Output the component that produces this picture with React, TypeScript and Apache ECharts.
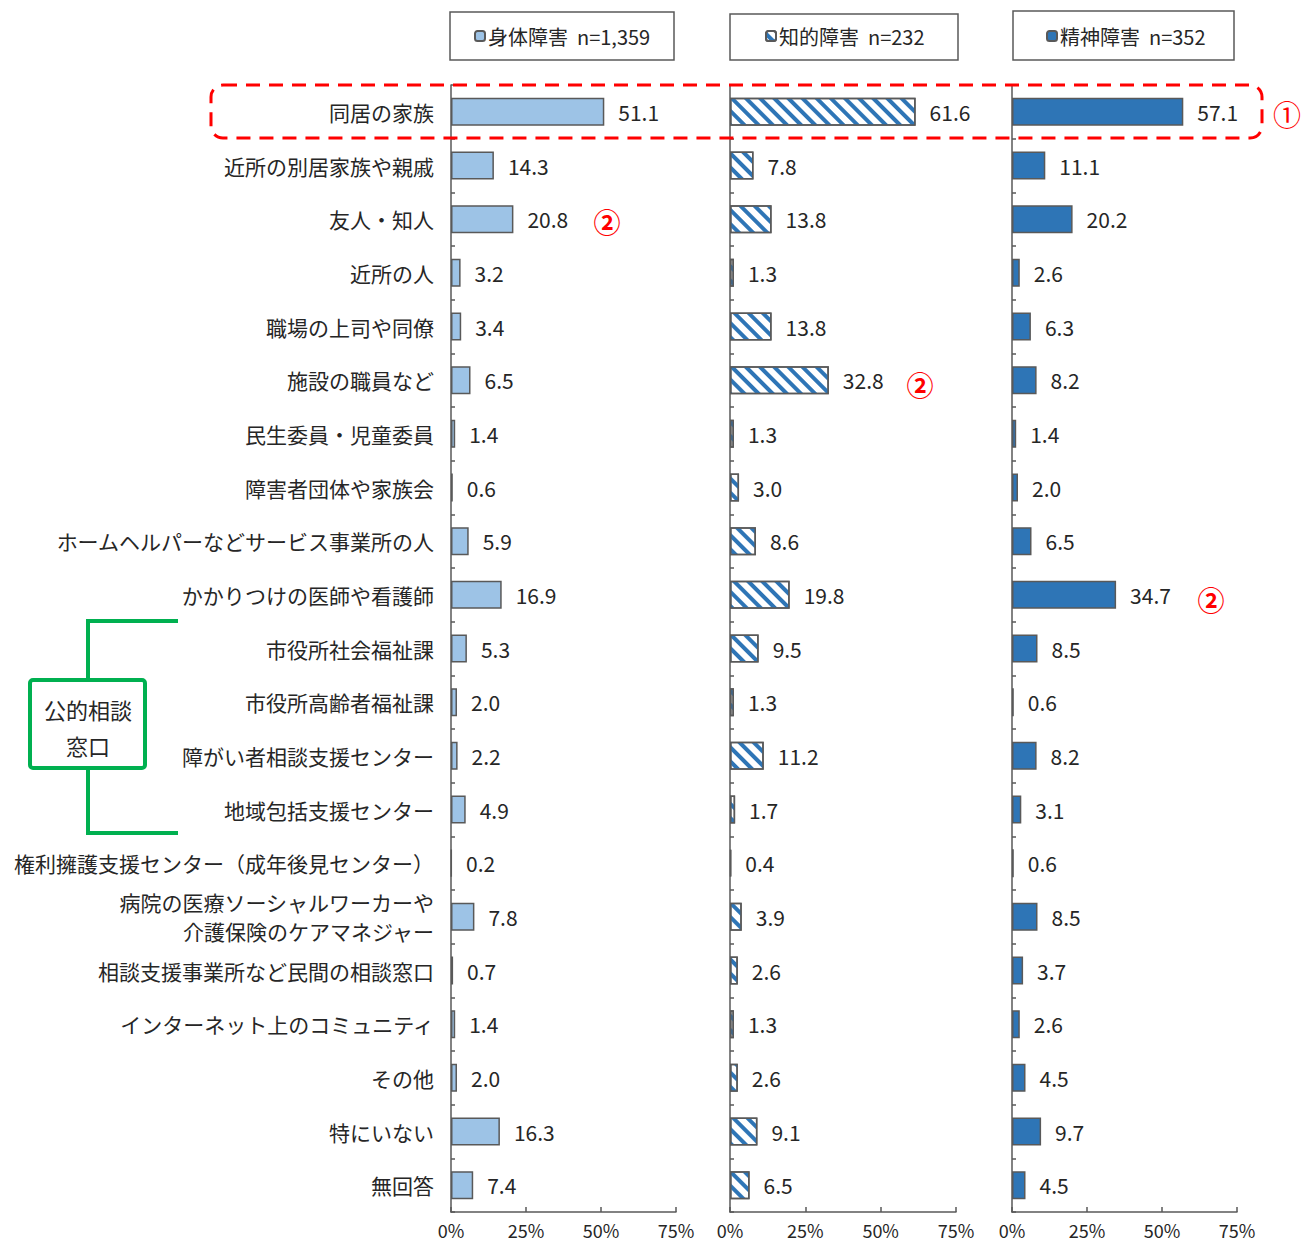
import React, { useEffect, useRef } from "react";
import * as echarts from "echarts";

const categories = [
  "同居の家族",
  "近所の別居家族や親戚",
  "友人・知人",
  "近所の人",
  "職場の上司や同僚",
  "施設の職員など",
  "民生委員・児童委員",
  "障害者団体や家族会",
  "ホームヘルパーなどサービス事業所の人",
  "かかりつけの医師や看護師",
  "市役所社会福祉課",
  "市役所高齢者福祉課",
  "障がい者相談支援センター",
  "地域包括支援センター",
  "権利擁護支援センター（成年後見センター）",
  "病院の医療ソーシャルワーカーや\n介護保険のケアマネジャー",
  "相談支援事業所など民間の相談窓口",
  "インターネット上のコミュニティ",
  "その他",
  "特にいない",
  "無回答",
];

const seriesNames = ["身体障害  n=1,359", "知的障害  n=232", "精神障害  n=352"];

const physical = [51.1, 14.3, 20.8, 3.2, 3.4, 6.5, 1.4, 0.6, 5.9, 16.9, 5.3, 2.0, 2.2, 4.9, 0.2, 7.8, 0.7, 1.4, 2.0, 16.3, 7.4];
const intellectual = [61.6, 7.8, 13.8, 1.3, 13.8, 32.8, 1.3, 3.0, 8.6, 19.8, 9.5, 1.3, 11.2, 1.7, 0.4, 3.9, 2.6, 1.3, 2.6, 9.1, 6.5];
const mental = [57.1, 11.1, 20.2, 2.6, 6.3, 8.2, 1.4, 2.0, 6.5, 34.7, 8.5, 0.6, 8.2, 3.1, 0.6, 8.5, 3.7, 2.6, 4.5, 9.7, 4.5];

const xTicks = [0, 25, 50, 75];

const JP = "'Noto Sans CJK JP', 'Noto Sans', sans-serif";
const NUM = "'Noto Sans CJK JP', sans-serif";
const AXIS = "#595959";
const TEXT = "#262626";

export default function App() {
  const ref = useRef<HTMLDivElement>(null);
  useEffect(() => {
    if (!ref.current) return;
    const chart = echarts.init(ref.current, null, { renderer: "svg" });
    const grids = [
      { left: 451, width: 225, top: 85, height: 1127 },
      { left: 730, width: 226, top: 85, height: 1127 },
      { left: 1012, width: 225, top: 85, height: 1127 },
    ];
    const datasets = [physical, intellectual, mental];
    const styles: any[] = [
      { color: "#9DC3E6", borderColor: AXIS, borderWidth: 1.5 },
      {
        color: "#FFFFFF",
        borderColor: AXIS,
        borderWidth: 1.5,
        decal: {
          symbol: "rect",
          symbolSize: 1,
          color: "#2E75B6",
          dashArrayX: [1, 0],
          dashArrayY: [4, 6],
          rotation: Math.PI / 4,
        },
      },
      { color: "#2E75B6", borderColor: AXIS, borderWidth: 1.5 },
    ];
    const legendPos = [
      { left: 474, top: 26 },
      { left: 765, top: 26 },
      { left: 1046, top: 26 },
    ];
    const option: any = {
      animation: false,
      backgroundColor: "#FFFFFF",
      aria: { enabled: false },
      grid: grids.map((g) => ({ ...g, containLabel: false })),
      legend: seriesNames.map((n, i) => ({
        data: [n],
        left: legendPos[i].left,
        top: legendPos[i].top,
        itemWidth: 10,
        itemHeight: 10,
        itemGap: 4,
        padding: 0,
        selectedMode: false,
        textStyle: { fontFamily: JP, fontSize: 20, color: TEXT, padding: [0, 0, 0, -2] },
      })),
      xAxis: grids.map((_, i) => ({
        type: "value",
        gridIndex: i,
        min: 0,
        max: 75,
        interval: 25,
        axisLine: { show: true, lineStyle: { color: AXIS, width: 1.5 } },
        axisTick: { show: true, inside: true, length: 5, lineStyle: { color: AXIS, width: 1.5 } },
        splitLine: { show: false },
        axisLabel: {
          formatter: (v: number) => (xTicks.includes(v) ? v + "%" : ""),
          fontFamily: NUM,
          fontSize: 18,
          color: TEXT,
          margin: 9,
        },
      })),
      yAxis: grids.map((_, i) => ({
        type: "category",
        gridIndex: i,
        inverse: true,
        data: categories,
        axisLine: { show: true, lineStyle: { color: AXIS, width: 1.5 } },
        axisTick: { show: true, inside: true, length: 4, lineStyle: { color: AXIS, width: 1.5 } },
        axisLabel: {
          show: i === 0,
          fontFamily: JP,
          fontSize: 21,
          color: TEXT,
          margin: 17,
          lineHeight: 29,
          align: "right",
          padding: [0, 0, 3, 0],
        },
      })),
      series: datasets.map((d, i) => ({
        type: "bar",
        name: seriesNames[i],
        xAxisIndex: i,
        yAxisIndex: i,
        data: d,
        barWidth: 28,
        itemStyle: styles[i],
        label: {
          show: true,
          position: "right",
          distance: 14,
          formatter: (p: any) => p.value.toFixed(1),
          fontFamily: NUM,
          fontSize: 21,
          color: TEXT,
        },
      })),
      graphic: [
        {
          type: "rect",
          shape: { x: 211, y: 85, width: 1051, height: 53, r: 12 },
          style: { fill: "none", stroke: "#FF0000", lineWidth: 3, lineDash: [14, 9] },
          z: 100,
        },
        { type: "text", x: 1287, y: 114, style: { text: "①", fill: "#FF0000", fontSize: 28, fontFamily: JP, align: "center", verticalAlign: "middle" } },
        { type: "text", x: 607, y: 221, style: { text: "②", fill: "#FF0000", fontSize: 27, fontWeight: "bold", fontFamily: JP, align: "center", verticalAlign: "middle" } },
        { type: "text", x: 920, y: 384, style: { text: "②", fill: "#FF0000", fontSize: 27, fontWeight: "bold", fontFamily: JP, align: "center", verticalAlign: "middle" } },
        { type: "text", x: 1211, y: 599, style: { text: "②", fill: "#FF0000", fontSize: 27, fontWeight: "bold", fontFamily: JP, align: "center", verticalAlign: "middle" } },
        { type: "rect", shape: { x: 450, y: 12, width: 224, height: 48 }, style: { fill: "none", stroke: AXIS, lineWidth: 1.5 } },
        { type: "rect", shape: { x: 730, y: 14, width: 228, height: 46 }, style: { fill: "none", stroke: AXIS, lineWidth: 1.5 } },
        { type: "rect", shape: { x: 1013, y: 11, width: 221, height: 49 }, style: { fill: "none", stroke: AXIS, lineWidth: 1.5 } },
        {
          type: "polyline",
          shape: { points: [[178, 621], [88, 621], [88, 680]] },
          style: { fill: "none", stroke: "#00B050", lineWidth: 4 },
        },
        {
          type: "polyline",
          shape: { points: [[88, 768], [88, 833], [178, 833]] },
          style: { fill: "none", stroke: "#00B050", lineWidth: 4 },
        },
        {
          type: "rect",
          shape: { x: 30, y: 680, width: 115, height: 88, r: 3 },
          style: { fill: "#FFFFFF", stroke: "#00B050", lineWidth: 4 },
        },
        { type: "text", x: 88, y: 709, style: { text: "公的相談", fill: TEXT, fontSize: 22, fontFamily: JP, align: "center", verticalAlign: "middle" } },
        { type: "text", x: 88, y: 745, style: { text: "窓口", fill: TEXT, fontSize: 22, fontFamily: JP, align: "center", verticalAlign: "middle" } },
      ],
    };
    chart.setOption(option);
    return () => chart.dispose();
  }, []);
  return (
    <div
      ref={ref}
      style={{ position: "fixed", left: 0, top: 0, width: 1314, height: 1243, background: "#fff" }}
    />
  );
}
